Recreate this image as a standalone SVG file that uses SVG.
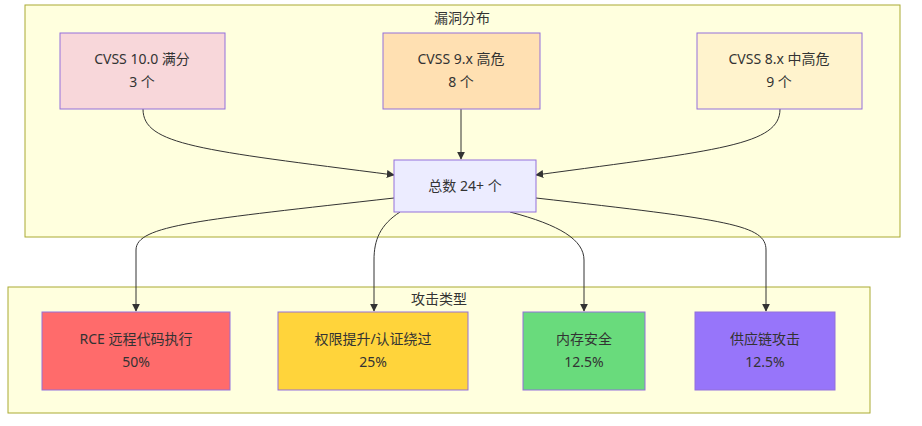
<svg xmlns="http://www.w3.org/2000/svg" width="922" height="426" viewBox="0 0 922 426">
<defs>
<marker id="ah" viewBox="0 0 10 10" refX="9" refY="5" markerWidth="8" markerHeight="8" orient="auto"><path d="M0,0L10,5L0,10z" fill="#333"/></marker>
<style>
.cl{fill:#ffffde;stroke:#aaaa33;stroke-width:1}
.n{stroke:#9370db;stroke-width:1}
text{font-family:"Noto Sans","Noto Sans CJK SC",sans-serif;font-size:14px;fill:#333;text-anchor:middle}
.e{fill:none;stroke:#333;stroke-width:1;marker-end:url(#ah)}
</style>
</defs>
<rect class="cl" x="25" y="5" width="875" height="232"/>
<text x="462" y="23">漏洞分布</text>
<rect class="cl" x="8" y="287" width="862" height="126"/>
<text x="439" y="304">攻击类型</text>
<g id="edges">
<path class="e" d="M143,109 C143,145 200,150 394,175"/>
<path class="e" d="M461,109 L461,159"/>
<path class="e" d="M780,109 C780,145 720,150 536,175"/>
<path class="e" d="M394,198 C200,220 136,225 136,250 L136,311"/>
<path class="e" d="M400,212 C380,225 374,240 374,260 L374,311"/>
<path class="e" d="M510,212 C560,225 584,240 584,260 L584,311"/>
<path class="e" d="M536,198 C730,220 766,225 766,250 L766,311"/>
</g>
<g id="n1"><rect class="n" x="60" y="33" width="165" height="76" fill="#f8d7da"/><text x="142" y="64">CVSS 10.0 满分</text><text x="142" y="87">3 个</text></g>
<g id="n2"><rect class="n" x="383" y="33" width="157" height="76" fill="#ffe0b2"/><text x="461" y="64">CVSS 9.x 高危</text><text x="461" y="87">8 个</text></g>
<g id="n3"><rect class="n" x="697" y="33" width="165" height="76" fill="#fff3cd"/><text x="779" y="64">CVSS 8.x 中高危</text><text x="779" y="87">9 个</text></g>
<g id="total"><rect class="n" x="394" y="160" width="142" height="52" fill="#ececff"/><text x="465" y="191">总数 24+ 个</text></g>
<g id="rce"><rect class="n" x="42" y="312" width="188" height="78" fill="#ff6b6b"/><text x="136" y="344">RCE 远程代码执行</text><text x="136" y="367">50%</text></g>
<g id="priv"><rect class="n" x="278" y="312" width="190" height="78" fill="#ffd43b"/><text x="373" y="344">权限提升/认证绕过</text><text x="373" y="367">25%</text></g>
<g id="mem"><rect class="n" x="523" y="312" width="122" height="78" fill="#69db7c"/><text x="584" y="344">内存安全</text><text x="584" y="367">12.5%</text></g>
<g id="supply"><rect class="n" x="695" y="312" width="140" height="78" fill="#9775fa"/><text x="765" y="344">供应链攻击</text><text x="765" y="367">12.5%</text></g>
</svg>
